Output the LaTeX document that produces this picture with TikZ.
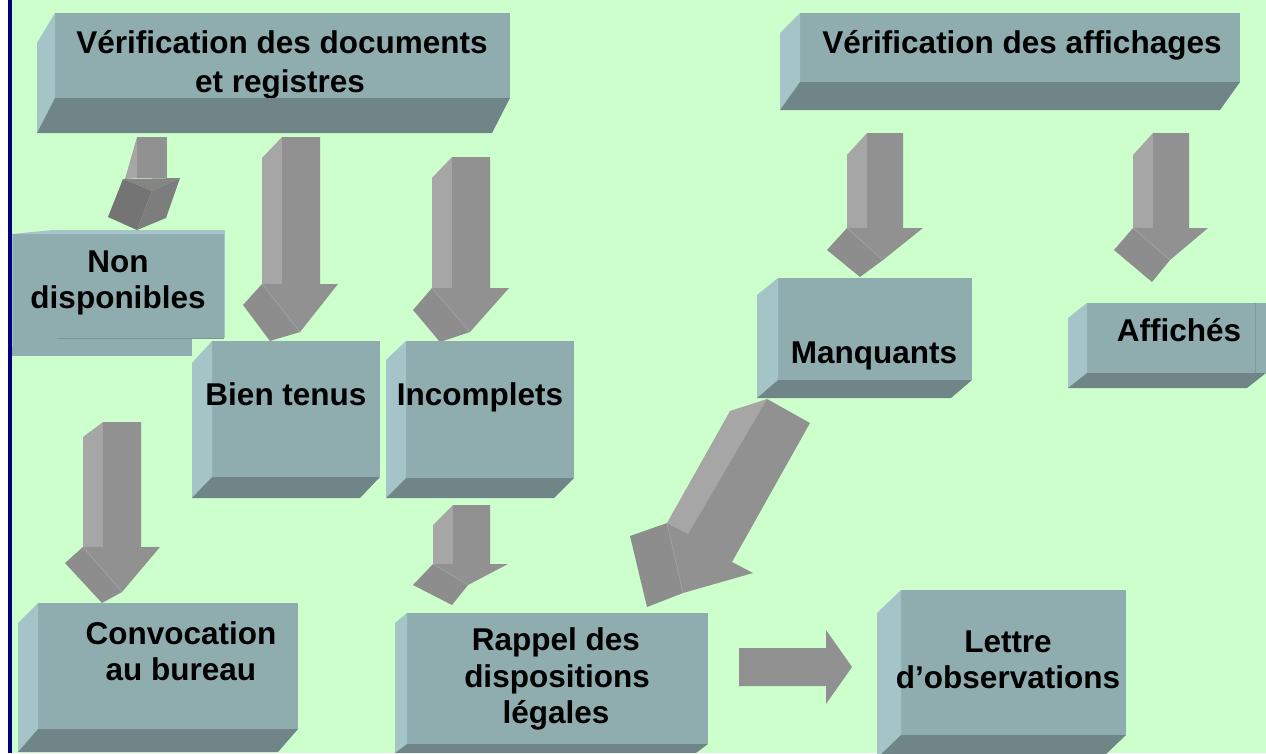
\documentclass[tikz,border=0pt]{standalone}
\usepackage{fontspec}
\setmainfont{Liberation Sans}
\usetikzlibrary{fit}
\definecolor{bgc}{HTML}{CCFFCC}
\definecolor{bordc}{HTML}{000080}
\definecolor{bfront}{HTML}{8FADAF}
\definecolor{bside}{HTML}{A4C4C8}
\definecolor{bbot}{HTML}{6F8587}
\definecolor{afront}{HTML}{919191}
\definecolor{aside}{HTML}{A6A6A6}
\definecolor{ahead}{HTML}{8D8D8D}
\definecolor{asep}{HTML}{A0A0A0}
\tikzset{
  boxfront/.style={fill=bfront, inner sep=0pt, outer sep=0pt},
  boxside/.style={fill=bside},
  boxbot/.style={fill=bbot},
  arrfront/.style={fill=afront},
  arrside/.style={fill=aside},
  arrhead/.style={fill=ahead},
  arrsep/.style={draw=asep, line width=0.8pt},
  lbl/.style={font=\bfseries\fontsize{31.5}{36}\selectfont, inner sep=0pt, anchor=base, text=black},
}
% #1 name, #2 top-left, #3 bottom-right, #4 dx, #5 side dy, #6 bottom dy, #7 text code
\newcommand\cuboid[7]{%
  \node[boxfront, fit={(#2) (#3)}] (#1) {};
  \fill[boxside] (#1.north west) -- ++(#4,#5) -- ([shift={(#4,#6)}]#1.south west) -- (#1.south west) -- cycle;
  #7
  \fill[boxbot] (#1.south west) -- (#1.south east) -- ([shift={(#4,#6)}]#1.south east) -- ([shift={(#4,#6)}]#1.south west) -- cycle;
}
\begin{document}
\begin{tikzpicture}[x=1pt,y=-1pt]
\useasboundingbox (0,0) rectangle (1266,753);
\clip (0,0) rectangle (1266,753);
\fill[bgc] (0,0) rectangle (1266,753);
\fill[white] (0,0) rectangle (8,753);
\fill[bordc] (8,0) rectangle (12,753);

% top boxes
\cuboid{docs}{55,13}{510,98}{-18}{30}{35}{%
  \node[lbl] (docs1) at (282,53) {Vérification des documents};
  \node[lbl] (docs2) at (280,92) {et registres};}
\cuboid{aff}{800,13}{1240,82}{-20}{20}{28}{%
  \node[lbl] (aff1) at (1022,53) {Vérification des affichages};}

% Non disponibles (flat box)
\node[boxfront, fit={(12,234) (224,338)}] (nd) {};
\fill[bfront] (12,338) rectangle (192,356);
\fill[bside] (12,234) -- (53,230) -- (224,230) -- (224,234) -- cycle;
\draw[bside, line width=1pt] (224,230) -- (224,338);
\draw[bside, line width=0.8pt] (12,234) -- (12,347);
\draw[bbot!60!bfront, line width=0.8pt] (57,338) -- (224,338);
\node[lbl] (nd1) at (118,272) {Non};
\node[lbl] (nd2) at (118,308) {disponibles};

% arrow docs -> non disponibles
\fill[arrside] (137,137) -- (137,178) -- (125,179) -- cycle;
\fill[arrfront] (137,137) rectangle (167,178);
\fill[fill=afront!92!black] (123,179) -- (180,178) -- (152,191) -- cycle;
\fill[fill=afront!80!black] (123,179) -- (108,217) -- (137,230) -- (152,191) -- cycle;
\fill[fill=afront!86!black] (152,191) -- (180,178) -- (166,218) -- (137,230) -- cycle;

% arrow docs -> bien tenus
\fill[arrside] (282,137) -- (262,158) -- (262,284) -- (282,284) -- cycle;
\fill[arrhead] (262,284) -- (243,305) -- (270,341) -- (300,332) -- cycle;
\fill[arrfront] (282,137) -- (320,137) -- (320,284) -- (338,284) -- (300,332) -- (262,284) -- (282,284) -- cycle;
\draw[arrsep] (262,284) -- (300,332);

% arrow docs -> incomplets
\fill[arrside] (452,157) -- (432,178) -- (432,288) -- (452,288) -- cycle;
\fill[arrhead] (432,288) -- (413,310) -- (440,342) -- (470,332) -- cycle;
\fill[arrfront] (452,157) -- (490,157) -- (490,288) -- (509,288) -- (470,332) -- (432,288) -- (452,288) -- cycle;
\draw[arrsep] (432,288) -- (470,332);

\cuboid{bt}{212,341}{380,477}{-20}{22}{21}{%
  \node[lbl] (bt1) at (286,405) {Bien tenus};}
\cuboid{inc}{406,341}{574,478}{-20}{19}{20}{%
  \node[lbl] (inc1) at (480,405) {Incomplets};}

% arrow non disponibles -> convocation
\fill[arrside] (103,422) -- (83,437) -- (83,547) -- (103,547) -- cycle;
\fill[arrhead] (83,547) -- (65,563) -- (102,603) -- (122,592) -- cycle;
\fill[arrfront] (103,422) -- (141,422) -- (141,547) -- (160,547) -- (122,592) -- (83,547) -- (103,547) -- cycle;
\draw[arrsep] (83,547) -- (122,592);

% arrow incomplets -> rappel
\fill[arrside] (453,505) -- (433,525) -- (433,564) -- (453,564) -- cycle;
\fill[arrhead] (433,564) -- (413,585) -- (452,605) -- (468,585) -- cycle;
\fill[arrfront] (453,505) -- (490,505) -- (490,564) -- (508,564) -- (468,585) -- (433,564) -- (453,564) -- cycle;
\draw[arrsep] (433,564) -- (468,585);

% arrows affichages -> manquants / affichés
\fill[arrside] (867,133) -- (847,155) -- (847,228) -- (867,228) -- cycle;
\fill[arrhead] (847,228) -- (827,250) -- (860,277) -- (883,260) -- cycle;
\fill[arrfront] (867,133) -- (903,133) -- (903,228) -- (923,228) -- (883,260) -- (847,228) -- (867,228) -- cycle;
\draw[arrsep] (847,228) -- (883,260);

\fill[arrside] (1153,133) -- (1133,155) -- (1133,228) -- (1153,228) -- cycle;
\fill[arrhead] (1133,228) -- (1114,250) -- (1152,282) -- (1170,260) -- cycle;
\fill[arrfront] (1153,133) -- (1189,133) -- (1189,228) -- (1208,228) -- (1170,260) -- (1133,228) -- (1153,228) -- cycle;
\draw[arrsep] (1133,228) -- (1170,260);

\cuboid{man}{778,278}{972,380}{-21}{17}{18}{%
  \node[lbl] (man1) at (874,363) {Manquants};}
\cuboid{affi}{1087,303}{1266,373}{-19}{15}{15}{%
  \node[lbl] (affi1) at (1179,341) {Affichés};}
\draw[bbot!50!bfront, line width=0.8pt] (1255,303) -- (1255,373);

% diagonal arrow manquants -> rappel
\fill[arrside] (730,411) -- (767,399) -- (688,534) -- (667,523) -- cycle;
\fill[arrhead] (667,523) -- (630,536) -- (647,607) -- (683,593) -- cycle;
\fill[arrfront] (767,399) -- (810,423) -- (732,562) -- (753,573) -- (683,593) -- (667,523) -- (688,534) -- cycle;
\draw[arrsep] (667,523) -- (683,593);

% bottom boxes
\cuboid{conv}{38,603}{298,729}{-20}{20}{23}{%
  \node[lbl] (conv1) at (181,644) {Convocation};
  \node[lbl] (conv2) at (181,680) {au bureau};}
\cuboid{rap}{407,613}{708,744}{-12}{10}{9}{%
  \node[lbl] (rap1) at (556,650) {Rappel des};
  \node[lbl] (rap2) at (557,687) {dispositions};
  \node[lbl] (rap3) at (556,723) {légales};}
\cuboid{let}{901,590}{1126,735}{-24}{23}{23}{%
  \node[lbl] (let1) at (1008,652) {Lettre};
  \node[lbl] (let2) at (1008,688) {d’observations};}

% arrow rappel -> lettre
\fill[arrfront] (739,648) -- (826,648) -- (826,630) -- (852,667) -- (826,704) -- (826,686) -- (739,686) -- cycle;
\end{tikzpicture}
\end{document}
